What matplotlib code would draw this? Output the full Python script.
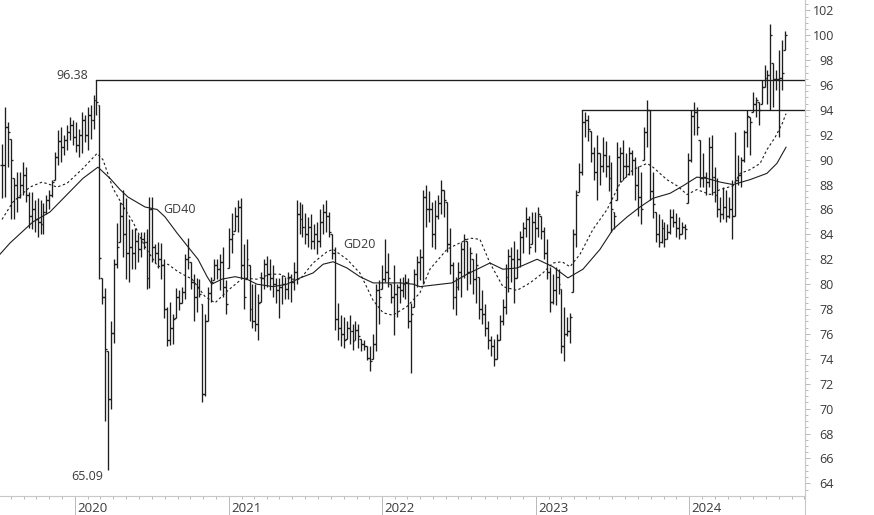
import numpy as np
import pandas as pd
import matplotlib
matplotlib.use("Agg")
import matplotlib.pyplot as plt
from matplotlib.lines import Line2D
from matplotlib.collections import LineCollection
from matplotlib.ticker import MultipleLocator, FixedLocator, NullFormatter

plt.rcParams['font.family'] = ['Open Sans', 'DejaVu Sans']

# --- weekly bars, first week ending 2019-07-12
start = pd.Timestamp("2019-07-12")

highs = [
    91.3, 94.2, 93.0, 91.7, 88.5, 89.0, 89.0, 89.8, 89.4, 87.4,
    87.4, 86.8, 86.9, 86.8, 86.5, 87.2, 87.6, 88.4, 90.6, 92.4,
    92.6, 92.0, 92.8, 93.4, 93.2, 93.0, 92.5, 93.8, 93.6, 94.2,
    94.4, 95.2, 96.38, 94.4, 80.5, 79.7, 74.6, 77.0, 82.0, 84.9,
    86.6, 87.6, 86.9, 85.2, 84.4, 84.5, 84.0, 84.2, 84.2, 84.4,
    87.0, 87.0, 83.2, 83.4, 83.3, 82.0, 78.2, 78.6, 77.6, 79.7,
    79.5, 79.8, 82.4, 83.7, 81.8, 80.8, 80.5, 80.4, 78.4, 77.6,
    79.8, 80.6, 82.0, 82.0, 82.4, 83.0, 80.3, 84.5, 85.7, 86.2,
    86.8, 86.9, 83.2, 83.6, 81.5, 80.0, 80.0, 79.2, 81.0, 82.0,
    82.3, 82.0, 81.5, 80.5, 80.5, 80.7, 80.6, 81.0, 80.8, 81.8,
    86.8, 86.6, 86.4, 85.7, 85.4, 85.6, 84.8, 85.0, 86.0, 86.4,
    86.8, 85.8, 84.0, 83.0, 78.5, 77.5, 77.4, 77.0, 77.5, 76.8,
    77.0, 76.8, 75.6, 75.5, 75.0, 75.0, 76.0, 80.0, 80.3, 81.5,
    83.6, 82.5, 80.0, 81.5, 80.0, 80.5, 80.6, 80.8, 80.5, 78.5,
    81.2, 82.3, 82.8, 87.6, 88.0, 87.5, 86.6, 86.8, 87.2, 88.4,
    87.6, 86.6, 84.5, 81.8, 80.6, 81.8, 83.4, 84.0, 83.5, 83.0,
    82.0, 82.5, 80.6, 79.5, 78.4, 77.0, 75.8, 75.6, 76.0, 77.5,
    78.8, 81.6, 82.8, 83.0, 83.5, 82.8, 84.3, 85.0, 86.2, 85.5,
    85.8, 85.8, 86.2, 85.5, 84.6, 83.6, 81.4, 80.8, 81.4, 81.2,
    79.6, 78.2, 77.4, 77.7, 84.4, 87.6, 89.7, 94.0, 93.8, 93.6,
    92.3, 91.0, 92.0, 90.5, 91.8, 91.5, 90.4, 89.8, 85.8, 91.4,
    91.0, 91.6, 90.5, 91.0, 90.8, 90.2, 89.5, 89.0, 92.6, 94.8,
    94.0, 89.0, 85.8, 85.6, 85.2, 85.0, 84.8, 86.0, 86.0, 85.7,
    85.4, 85.0, 84.8, 90.5, 94.0, 94.6, 94.2, 91.6, 90.5, 89.0,
    91.8, 92.0, 89.4, 88.5, 87.0, 87.8, 87.6, 87.0, 88.4, 92.2,
    90.4, 90.2, 92.4, 94.0, 93.4, 95.4, 95.0, 94.6, 96.4, 97.6,
    97.2, 100.9, 97.8, 97.2, 98.8, 99.6, 100.3,
]

lows = [
    86.9, 87.0, 89.4, 85.2, 85.2, 85.8, 86.9, 87.2, 86.6, 84.5,
    84.4, 84.2, 83.8, 84.0, 84.0, 85.6, 86.0, 87.0, 88.4, 89.6,
    89.8, 90.4, 90.8, 91.6, 91.2, 90.6, 90.2, 90.5, 91.4, 90.8,
    91.7, 92.5, 93.6, 80.4, 78.4, 69.0, 65.09, 70.0, 75.3, 81.3,
    83.4, 82.2, 80.4, 80.2, 81.2, 81.2, 81.8, 82.2, 82.8, 79.6,
    79.7, 81.8, 81.7, 81.3, 80.4, 77.3, 75.0, 75.1, 75.2, 77.3,
    77.9, 78.5, 78.8, 81.2, 79.6, 77.0, 77.8, 79.0, 70.5, 71.0,
    77.0, 78.6, 80.3, 80.4, 79.5, 79.0, 77.6, 81.3, 82.5, 84.3,
    84.2, 80.5, 78.0, 80.4, 77.0, 76.5, 76.2, 75.5, 78.6, 79.6,
    79.8, 79.5, 79.0, 78.5, 77.3, 78.4, 78.8, 78.8, 78.6, 79.5,
    80.0, 84.0, 83.8, 83.2, 83.0, 82.8, 82.8, 82.4, 83.0, 84.0,
    84.2, 83.8, 82.0, 76.3, 75.5, 75.0, 74.9, 75.6, 75.2, 74.7,
    75.5, 74.9, 74.6, 74.7, 73.9, 73.0, 74.0, 74.6, 76.8, 79.6,
    80.2, 79.8, 78.5, 75.9, 77.4, 78.5, 79.0, 78.8, 76.5, 72.9,
    78.2, 79.8, 80.3, 80.0, 84.6, 85.0, 83.0, 82.8, 85.2, 85.6,
    85.4, 82.6, 80.8, 78.0, 77.5, 79.5, 79.0, 80.5, 79.5, 80.0,
    79.2, 78.5, 77.2, 76.8, 75.8, 74.8, 74.2, 73.4, 74.0, 75.5,
    76.7, 77.6, 79.4, 80.2, 78.5, 80.5, 81.4, 82.5, 83.8, 82.4,
    83.2, 82.6, 83.8, 83.6, 82.0, 80.4, 77.8, 78.4, 78.3, 79.2,
    74.5, 73.8, 75.8, 75.3, 79.4, 83.0, 87.4, 88.8, 91.8, 91.5,
    89.8, 88.4, 86.8, 88.0, 89.0, 88.6, 87.5, 84.2, 84.4, 86.8,
    88.2, 88.4, 88.6, 88.8, 88.8, 86.8, 85.5, 84.8, 90.0, 91.0,
    86.8, 85.3, 83.4, 83.0, 83.3, 83.0, 83.6, 84.0, 84.6, 83.8,
    83.6, 84.0, 83.6, 86.5, 89.8, 92.0, 92.0, 87.8, 87.8, 87.2,
    87.8, 87.2, 86.6, 85.4, 85.0, 85.2, 85.0, 85.3, 83.6, 85.5,
    88.0, 87.8, 89.8, 91.0, 90.4, 93.8, 93.4, 92.8, 94.5, 95.8,
    94.5, 94.0, 94.2, 95.6, 91.8, 95.6, 98.8,
]

closes = [
    89.6, 92.6, 92.2, 90.0, 88.0, 87.0, 88.0, 88.8, 87.2, 85.5,
    86.0, 85.2, 85.0, 84.8, 85.8, 86.8, 87.2, 88.2, 90.2, 91.5,
    91.0, 91.6, 92.2, 92.8, 91.8, 91.2, 92.0, 93.2, 92.0, 93.6,
    93.2, 94.8, 94.6, 82.1, 79.0, 74.8, 70.8, 76.1, 81.6, 83.0,
    85.5, 84.0, 82.5, 83.0, 82.5, 83.5, 82.8, 83.6, 83.4, 80.5,
    86.0, 83.0, 82.5, 82.0, 81.5, 78.0, 75.5, 76.5, 77.2, 79.0,
    78.5, 79.4, 82.0, 82.2, 80.2, 79.0, 79.8, 79.2, 71.2, 77.0,
    79.3, 80.2, 81.5, 81.2, 81.8, 79.8, 78.4, 83.6, 84.0, 85.5,
    86.2, 81.5, 79.0, 82.0, 78.0, 77.0, 76.8, 78.5, 80.5, 81.6,
    80.8, 80.5, 80.0, 79.5, 79.8, 80.0, 79.6, 80.6, 80.2, 81.0,
    85.6, 85.2, 84.6, 84.0, 84.6, 83.5, 84.0, 83.5, 85.0, 85.8,
    85.5, 84.2, 82.5, 77.2, 76.5, 76.0, 75.5, 76.5, 76.2, 75.4,
    76.3, 75.8, 75.2, 75.0, 74.1, 73.8, 75.2, 79.5, 79.0, 80.4,
    81.0, 80.5, 79.0, 79.2, 79.8, 79.5, 80.0, 80.2, 77.0, 77.6,
    80.8, 81.8, 82.2, 87.0, 86.0, 86.0, 84.0, 85.5, 86.5, 87.6,
    86.8, 83.2, 81.5, 79.0, 79.8, 81.0, 82.8, 83.6, 81.0, 82.5,
    80.4, 81.5, 78.0, 77.6, 76.5, 75.5, 75.0, 74.0, 75.5, 77.0,
    78.2, 80.6, 82.3, 82.0, 80.5, 82.0, 83.8, 84.5, 85.2, 83.0,
    85.0, 84.5, 85.6, 84.3, 82.5, 81.0, 78.6, 79.5, 80.6, 80.0,
    75.0, 76.0, 76.2, 77.4, 84.0, 87.2, 89.0, 93.0, 93.2, 92.5,
    90.5, 89.0, 90.5, 89.5, 90.4, 89.5, 88.5, 86.0, 85.5, 90.2,
    90.5, 89.5, 89.5, 90.5, 90.0, 88.0, 87.0, 86.0, 92.2, 94.0,
    87.5, 86.4, 84.0, 83.4, 84.5, 83.6, 84.2, 85.4, 85.0, 84.5,
    84.0, 84.6, 84.4, 90.0, 93.5, 93.8, 92.6, 88.5, 88.6, 88.2,
    91.0, 88.6, 87.2, 86.0, 85.6, 86.2, 85.5, 86.0, 85.5, 88.4,
    88.8, 90.0, 92.2, 93.5, 93.0, 94.5, 94.8, 94.0, 95.8, 96.6,
    96.8, 100.0, 96.5, 96.5, 96.6, 97.0, 100.0,
]

# moving averages (week index, value)
gd40_wk = [-0.8, 2.6, 10.4, 16.2, 22.0, 27.4, 32.5, 36.6, 40.0, 42.7, 48.5, 52.6,
           55.3, 59.4, 63.1, 66.5, 69.6, 71.2, 74.6, 79.1, 83.1, 86.5, 92.0, 96.7,
           101.2, 105.6, 109.0, 112.4, 117.1, 121.5, 126.0, 130.7, 135.1, 139.6,
           141.9, 152.8, 157.9, 165.7, 170.1, 174.9, 181.7, 187.1, 192.2, 197.3,
           203.1, 207.5, 212.3, 216.7, 221.1, 226.9, 231.3, 236.0, 239.4, 243.9,
           248.3, 254.1, 259.8, 263.2, 266.3]
gd40_val = [82.4, 83.3, 85.0, 85.8, 87.2, 88.5, 89.4, 88.5, 87.6, 87.0, 86.2, 86.0,
            85.4, 84.1, 83.0, 82.0, 80.6, 80.0, 80.4, 80.6, 80.4, 80.0, 79.8, 80.0,
            80.5, 80.9, 81.6, 81.8, 81.3, 80.6, 80.1, 80.1, 80.1, 80.0,
            79.8, 80.1, 80.8, 81.7, 81.2, 81.3, 82.0, 81.4, 80.5, 81.2,
            82.8, 84.4, 85.4, 86.2, 86.9, 87.3, 87.9, 88.6, 88.5, 88.2,
            88.0, 88.4, 88.9, 89.7, 91.0]

gd20_wk = [-0.1, 3.6, 9.4, 13.5, 16.2, 18.6, 22.0, 27.4, 32.2, 34.2, 37.6, 41.7,
           44.4, 48.5, 52.9, 56.3, 59.7, 64.5, 68.9, 72.3, 76.7, 81.8, 86.5, 91.0,
           94.4, 97.8, 101.2, 105.6, 110.3, 112.4, 117.1, 121.5, 126.0, 129.4,
           132.7, 137.5, 141.9, 145.3, 151.1, 154.5, 158.9, 162.3, 165.7, 170.1,
           174.9, 179.3, 183.7, 187.1, 190.2, 192.9, 196.3, 200.7, 205.5, 209.9,
           214.3, 219.1, 221.1, 225.8, 229.3, 232.7, 236.0, 240.5, 243.9, 248.3,
           250.7, 254.1, 257.5, 259.8, 262.6, 265.0, 266.3]
gd20_val = [85.2, 86.6, 87.8, 88.2, 88.0, 87.8, 88.1, 89.3, 90.5, 90.0, 87.7, 86.0,
            85.0, 83.0, 81.4, 81.6, 81.0, 80.4, 79.0, 78.5, 79.5, 80.5, 80.4, 80.8,
            80.8, 80.4, 80.4, 81.7, 82.6, 82.8, 82.0, 80.9, 78.7, 77.7,
            77.5, 78.2, 79.3, 81.2, 82.8, 83.2, 83.7, 83.6, 81.7, 79.8,
            79.5, 80.1, 80.9, 81.7, 81.8, 81.4, 82.4, 84.4, 86.0, 88.1,
            89.2, 89.7, 89.4, 88.4, 87.9, 87.2, 87.6, 87.2, 87.6, 87.9,
            88.9, 89.2, 89.7, 90.8, 91.8, 92.9, 93.7]

hi_level = 96.38
lo_level = 65.09
resist_level = 94.0

# --- figure
W, H = 874, 515
fig = plt.figure(figsize=(W / 100, H / 100), dpi=100)
ax_l, ax_b, ax_w, ax_h = 0.0, 19.5 / H, 805 / W, 495.5 / H
ax = fig.add_axes([ax_l, ax_b, ax_w, ax_h])

n = len(closes)
wk = np.arange(n)
opens = np.clip([closes[0]] + closes[:-1], lows, highs)

bar_col = '#1e1e1e'
tk = 0.65
segs = []
for i in range(n):
    segs.append([(wk[i], lows[i]), (wk[i], highs[i])])
    segs.append([(wk[i] - tk, opens[i]), (wk[i], opens[i])])
    segs.append([(wk[i], closes[i]), (wk[i] + tk, closes[i])])
ax.add_collection(LineCollection(segs, colors=bar_col, linewidths=0.95))

ax.plot(gd40_wk, gd40_val, color='#1e1e1e', lw=0.8)
ax.plot(gd20_wk, gd20_val, color='#1e1e1e', lw=0.8, ls=(0, (2.2, 2.2)))

i_hi = highs.index(hi_level)   # the 2020 top
i_lo = lows.index(lo_level)    # the 2020 low
i_res = 197
xmin, xmax = -0.78, 272.75
ax.plot([i_hi - 0.3, xmax], [hi_level, hi_level], color=bar_col, lw=0.95)
ax.plot([i_res, xmax], [resist_level, resist_level], color=bar_col, lw=0.95)

txt_col = '#3a3a3a'
ax.text(i_hi - 2.9, hi_level + 0.12, f"{hi_level:.2f}", ha='right', va='baseline',
        fontsize=9, color=txt_col)
ax.text(i_lo - 1.6, 64.23, f"{lo_level:.2f}", ha='right', va='baseline',
        fontsize=9, color=txt_col)
ax.text(54.6, 85.96, "GD40", ha='left', va='center', fontsize=9, color=txt_col)
ax.text(115.8, 83.15, "GD20", ha='left', va='center', fontsize=9, color=txt_col)

ax.set_xlim(xmin, xmax)
ax.set_ylim(63.02, 102.83)

# --- axes styling
grey = '#b9b9b9'
for s in ('top', 'left'):
    ax.spines[s].set_visible(False)
ax.spines['bottom'].set_color('#c8c8c8')
ax.spines['right'].set_color('#c8c8c8')
ax.spines['bottom'].set_linewidth(0.8)
ax.spines['right'].set_linewidth(0.8)

ax.yaxis.tick_right()
ax.yaxis.set_major_locator(MultipleLocator(2))
ax.yaxis.set_minor_locator(MultipleLocator(0.5))
ax.tick_params(axis='y', which='major', direction='out', length=3.4, width=0.7,
               color=grey, labelsize=9, labelcolor=txt_col, pad=17.4)
ax.tick_params(axis='y', which='minor', direction='out', length=2.0, width=0.7, color=grey)
for lbl in ax.get_yticklabels():
    lbl.set_horizontalalignment('right')

def week_pos(d):
    return (pd.Timestamp(d) - start).days / 7.0

years = [2020, 2021, 2022, 2023, 2024]
year_pos = [week_pos(f"{y}-01-01") for y in years]
months = pd.date_range("2019-08-01", "2024-10-01", freq="MS")
month_pos = [week_pos(m) for m in months]

ax.xaxis.set_major_locator(FixedLocator(year_pos))
ax.xaxis.set_minor_locator(FixedLocator(month_pos))
ax.xaxis.set_major_formatter(NullFormatter())
ax.tick_params(axis='x', which='major', direction='out', length=15, width=0.7, color=grey)
ax.tick_params(axis='x', which='minor', direction='out', length=2.2, width=0.7, color=grey)
for y, p in zip(years, year_pos):
    ax.text(p + 0.7, -7 / 495.5, str(y), transform=ax.get_xaxis_transform(),
            ha='left', va='top', fontsize=9.5, color=txt_col)

# right axis line runs down to the bottom edge
fig.add_artist(Line2D([ax_w, ax_w], [0, ax_b], transform=fig.transFigure,
                      color='#c8c8c8', lw=0.8))

fig.savefig("out.png", dpi=100)
